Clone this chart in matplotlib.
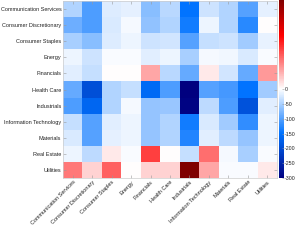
import matplotlib
matplotlib.use("Agg")
import matplotlib.pyplot as plt
import numpy as np
from matplotlib.colors import LinearSegmentedColormap, TwoSlopeNorm

plt.rcParams['font.family'] = ['Liberation Sans', 'DejaVu Sans']
plt.rcParams['axes.unicode_minus'] = False

sectors = ['Communication Services', 'Consumer Discretionary', 'Consumer Staples',
           'Energy', 'Financials', 'Health Care', 'Industrials',
           'Information Technology', 'Materials', 'Real Estate', 'Utilities']

# rows = y sector, columns = x sector
comm_services = [-45, -105, -20, -15, -70, -40, -150, -30, -45, -100, -15]
cons_discretionary = [-85, -105, -22, -5, -65, -45, -140, -10, -45, -125, 0]
cons_staples = [-50, -70, -20, -10, -30, -27, -100, -33, -30, -55, -14]
energy = [-10, -30, -4, -3, -18, -10, -50, -7, -9, -22, -4]
financials = [-17, -33, 0, 0, 8, -40, -90, 2, -27, -90, 9]
health_care = [-90, -195, -45, -33, -160, -105, -300, -100, -110, -150, -55]
industrials = [-105, -165, -45, -6, -62, -60, -295, -38, -105, -190, -18]
info_tech = [-33, -100, -18, -10, -62, -45, -140, -22, -55, -120, -10]
materials = [-22, -100, -15, -10, -62, -45, -130, -18, -38, -62, -10]
real_estate = [-10, -38, 2, -4, 17, 0, -33, 13, -6, -50, -3]
utilities = [12, 4, 14, 0, 4, 4, 38, 8, -3, -3, 2]

cbar_ticks = [0, -50, -100, -150, -200, -250, -300]

data = np.array([comm_services, cons_discretionary, cons_staples, energy,
                 financials, health_care, industrials, info_tech, materials,
                 real_estate, utilities])

# white at zero, blue/navy for negative, red/maroon for positive
cmap = LinearSegmentedColormap.from_list('redblue', [
    (0.0, (0.0, 0.0, 0.5)),
    (0.25, (0.0, 0.45, 1.0)),
    (0.5, (1.0, 1.0, 1.0)),
    (0.8, (1.0, 0.0, 0.0)),
    (1.0, (0.5, 0.0, 0.0)),
])
norm = TwoSlopeNorm(vmin=-300, vcenter=0, vmax=38)

fig = plt.figure(figsize=(2.95, 2.44), dpi=100)
ax = fig.add_axes([63 / 295, 1 - 178 / 244, 214 / 295, 177 / 244])
cax = fig.add_axes([279 / 295, 1 - 178 / 244, 4.5 / 295, 178 / 244])

im = ax.imshow(data, cmap=cmap, norm=norm, aspect='auto', interpolation='nearest')

ax.set_xticks(range(len(sectors)))
ax.set_yticks(range(len(sectors)))
ax.set_xticklabels(sectors, rotation=45, ha='right', rotation_mode='anchor')
ax.set_yticklabels(sectors)
ax.tick_params(axis='both', labelsize=4.0, length=2, width=0.4, color='#999999',
               direction='in', top=True, right=True, pad=1.2, labelcolor='#222222')
for s in ax.spines.values():
    s.set_color('#cccccc')
    s.set_linewidth(0.5)

cb = fig.colorbar(im, cax=cax, ticks=cbar_ticks)
cb.outline.set_visible(False)
cax.tick_params(labelsize=3.8, length=1.5, width=0.4, color='#999999',
                direction='in', pad=1, labelcolor='#222222')

fig.savefig('out.png', dpi=100)
